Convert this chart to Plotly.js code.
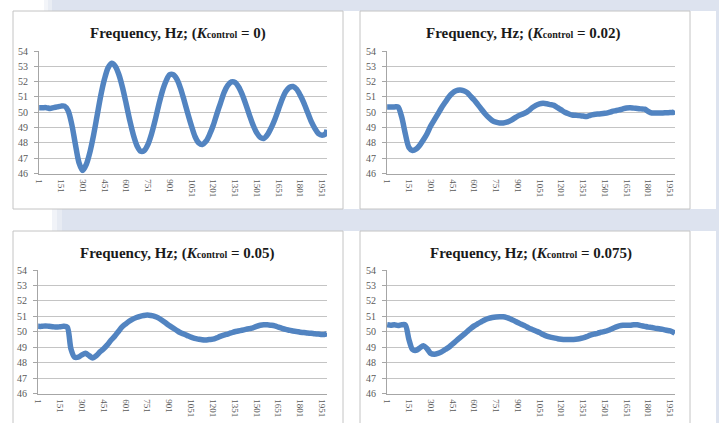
<!DOCTYPE html>
<html><head><meta charset="utf-8">
<script src="https://cdn.plot.ly/plotly-3.0.1.min.js"></script>
<style>html,body{margin:0;padding:0;background:#fff;overflow:hidden}#chart{width:719px;height:423px}</style>
</head><body><div id="chart"></div>
<script>
// sample positions (time step index)
const sampleIdx = Array.from({length: 80}, (_, k) => 1 + 25 * k).concat([1985]);

const tickVals = [1,151,301,451,601,751,901,1051,1201,1351,1501,1651,1801,1951];
const tickText = ['1','151','301','451','601','751','901','1051','1201','1351','1501','1651','1801','1951'];

const kLabels = ['0', '0.02', '0.05', '0.075'];

const freqK0 = [
  50.3,50.3,50.3,50.25,50.3,50.35,50.4,50.4,50.1,49.2,
  47.9,46.7,46.2,46.6,47.4,48.5,49.8,51.1,52.15,52.9,
  53.2,53.0,52.45,51.6,50.55,49.45,48.5,47.8,47.45,47.5,
  47.9,48.6,49.5,50.5,51.4,52.05,52.45,52.45,52.15,51.55,
  50.75,49.9,49.1,48.4,48.0,47.9,48.1,48.55,49.15,49.9,
  50.6,51.3,51.75,51.98,51.95,51.65,51.15,50.5,49.8,49.15,
  48.65,48.35,48.3,48.55,49.0,49.55,50.2,50.85,51.35,51.62,
  51.68,51.5,51.1,50.6,50.0,49.4,48.95,48.6,48.5,48.6,
  48.85];
const freqK002 = [
  50.35,50.35,50.35,50.35,49.7,48.6,47.7,47.5,47.6,47.85,
  48.2,48.6,49.1,49.5,49.9,50.3,50.65,51.0,51.25,51.4,
  51.45,51.42,51.3,51.05,50.8,50.5,50.2,49.9,49.65,49.45,
  49.35,49.3,49.3,49.35,49.45,49.6,49.75,49.85,49.95,50.1,
  50.3,50.45,50.55,50.58,50.55,50.5,50.45,50.3,50.15,50.0,
  49.9,49.82,49.8,49.78,49.75,49.72,49.8,49.85,49.88,49.9,
  49.93,49.98,50.05,50.1,50.15,50.22,50.28,50.3,50.27,50.25,
  50.22,50.2,50.05,49.95,49.95,49.95,49.95,49.97,49.98,50.0,
  50.1];
const freqK005 = [
  50.35,50.35,50.38,50.35,50.33,50.3,50.32,50.35,50.3,48.9,
  48.35,48.35,48.5,48.6,48.45,48.3,48.45,48.7,48.9,49.15,
  49.45,49.7,50.0,50.3,50.5,50.68,50.82,50.92,51.0,51.05,
  51.08,51.05,51.0,50.9,50.75,50.58,50.4,50.25,50.1,49.95,
  49.85,49.75,49.65,49.57,49.52,49.48,49.47,49.5,49.52,49.6,
  49.7,49.78,49.85,49.92,50.0,50.05,50.1,50.15,50.2,50.25,
  50.35,50.42,50.45,50.45,50.42,50.38,50.3,50.22,50.15,50.1,
  50.05,50.02,49.97,49.95,49.92,49.9,49.87,49.85,49.82,49.85,
  49.9];
const freqK0075 = [
  50.45,50.42,50.45,50.4,50.45,50.45,49.5,48.85,48.8,48.95,
  49.1,48.9,48.6,48.55,48.6,48.7,48.85,49.0,49.2,49.4,
  49.6,49.8,50.0,50.2,50.38,50.52,50.65,50.78,50.87,50.92,
  50.95,50.97,50.97,50.92,50.83,50.72,50.6,50.48,50.38,50.25,
  50.15,50.05,49.95,49.82,49.72,49.65,49.6,49.55,49.52,49.5,
  49.5,49.5,49.52,49.55,49.6,49.68,49.78,49.85,49.9,49.97,
  50.02,50.1,50.2,50.3,50.38,50.42,50.42,50.42,50.45,50.45,
  50.4,50.35,50.3,50.27,50.22,50.2,50.15,50.1,50.05,49.95,
  49.9];

const series = [freqK0, freqK002, freqK005, freqK0075];

const W = 719, H = 423;
const X = px => px / W;
const Y = py => 1 - py / H;

// plot-area boxes in pixels [left, right, top, bottom]
const boxes = [
  [39, 327, 51, 173.5],
  [387, 675, 51, 173.5],
  [38, 327, 270, 393.5],
  [387, 675, 270, 393.5]
];
// panel frames [left, right, top, bottom]
const frames = [
  [13, 343, 11, 209],
  [360, 690, 11, 209],
  [13, 343, 231, 440],
  [360, 690, 231, 440]
];
const titleCenters = [[178, 33], [523, 33], [177, 253], [531, 253]];

const lineColor = '#5284c1';
const band = '#dde3ef';
const serif = 'Liberation Serif, Times New Roman, serif';

const traces = series.map((vals, i) => ({
  type: 'scatter', mode: 'lines',
  x: sampleIdx, y: vals,
  xaxis: i === 0 ? 'x' : 'x' + (i + 1),
  yaxis: i === 0 ? 'y' : 'y' + (i + 1),
  line: {color: lineColor, width: 5.5, shape: 'spline', smoothing: 0.8},
  hoverinfo: 'skip', showlegend: false
}));

const layout = {
  width: W, height: H,
  margin: {l: 0, r: 0, t: 0, b: 0},
  paper_bgcolor: '#ffffff', plot_bgcolor: 'rgba(0,0,0,0)',
  showlegend: false,
  shapes: [],
  annotations: []
};

function rect(x0, x1, y0, y1, fill, line) {
  return {type: 'rect', xref: 'paper', yref: 'paper', layer: 'below',
    x0: X(x0), x1: X(x1), y0: Y(y1), y1: Y(y0),
    fillcolor: fill, line: line || {width: 0}};
}
layout.shapes.push(rect(44, 48, 0, 11, '#f3f5f9'));
layout.shapes.push(rect(48, 52, 0, 11, '#e9edf4'));
layout.shapes.push(rect(52, 719, 0, 11, band));
layout.shapes.push(rect(52, 57, 209, 231, '#f1f3f8'));
layout.shapes.push(rect(57, 62, 209, 231, '#e7ebf3'));
layout.shapes.push(rect(62, 719, 209, 231, band));
layout.shapes.push(rect(716, 719, 0, 423, band));

frames.forEach(f => {
  layout.shapes.push(rect(f[0], f[1], f[2], f[3], '#ffffff', {color: '#c4c4c4', width: 1}));
});

boxes.forEach((b, i) => {
  const sfx = i === 0 ? '' : String(i + 1);
  layout['xaxis' + sfx] = {
    domain: [X(b[0]), X(b[1])], anchor: 'y' + sfx,
    range: [0, 1985], tickmode: 'array', tickvals: tickVals, ticktext: tickText,
    tickangle: 90, showgrid: false, zeroline: false,
    showline: true, linecolor: '#a6a6a6', linewidth: 1,
    ticks: '', ticklabelstandoff: 3,
    tickfont: {family: serif, size: 9, color: '#595959'}, fixedrange: true
  };
  layout['yaxis' + sfx] = {
    domain: [Y(b[3]), Y(b[2])], anchor: 'x' + sfx,
    range: [46, 54], tick0: 46, dtick: 1,
    showgrid: true, gridcolor: '#c4c4c4', gridwidth: 1, zeroline: false,
    showline: true, linecolor: '#a6a6a6', linewidth: 1,
    ticks: 'outside', ticklen: 4, tickcolor: '#a6a6a6', ticklabelstandoff: 4,
    tickfont: {family: serif, size: 10, color: '#595959'}, fixedrange: true
  };
  const c = titleCenters[i];
  layout.annotations.push({
    xref: 'paper', yref: 'paper', x: X(c[0]), y: Y(c[1]),
    xanchor: 'center', yanchor: 'middle', showarrow: false,
    text: '<b>Frequency, Hz; (<i>K</i><span style="font-size:10px">control</span> = ' + kLabels[i] + ')</b>',
    font: {family: serif, size: 15, color: '#1a1a1a'}
  });
});

Plotly.newPlot('chart', traces, layout, {staticPlot: true, displayModeBar: false});
</script></body></html>
